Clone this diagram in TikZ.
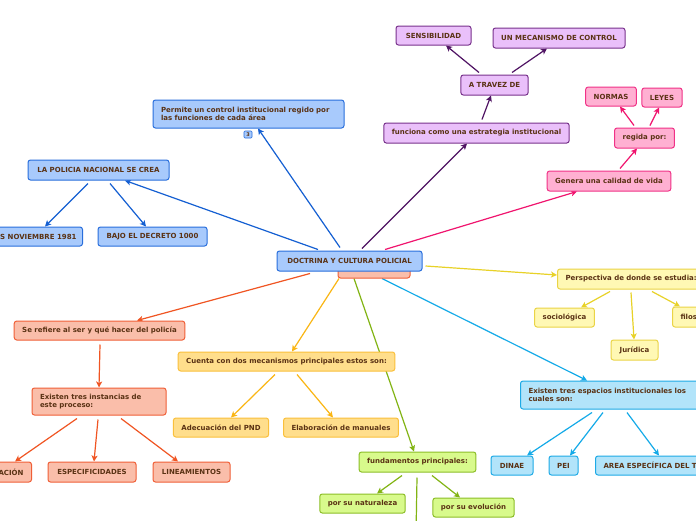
\documentclass[tikz,border=0pt]{standalone}
\usepackage{fontspec}
\setmainfont{DejaVu Sans}
\usetikzlibrary{arrows.meta}
\pgfdeclarelayer{background}
\pgfsetlayers{background,main}
\definecolor{txt}{RGB}{90,50,20}
\definecolor{bluF}{RGB}{168,202,252}\definecolor{bluD}{RGB}{40,110,220}\definecolor{bluL}{RGB}{20,95,210}
\definecolor{purF}{RGB}{234,192,250}\definecolor{purD}{RGB}{120,50,140}\definecolor{purL}{RGB}{80,20,100}
\definecolor{pinF}{RGB}{255,176,210}\definecolor{pinD}{RGB}{240,50,135}\definecolor{pinL}{RGB}{240,20,110}
\definecolor{yelF}{RGB}{255,248,180}\definecolor{yelD}{RGB}{234,212,70}\definecolor{yelL}{RGB}{232,210,40}
\definecolor{salF}{RGB}{250,190,170}\definecolor{salD}{RGB}{240,95,55}\definecolor{salL}{RGB}{240,85,35}
\definecolor{golF}{RGB}{255,222,140}\definecolor{golD}{RGB}{250,192,60}\definecolor{golL}{RGB}{250,182,20}
\definecolor{grnF}{RGB}{216,250,140}\definecolor{grnD}{RGB}{140,190,40}\definecolor{grnL}{RGB}{130,180,20}
\definecolor{cyaF}{RGB}{178,228,250}\definecolor{cyaD}{RGB}{30,170,230}\definecolor{cyaL}{RGB}{20,170,232}
\tikzset{
  box/.style={draw=#1D, fill=#1F, rounded corners=2.5pt, line width=1pt, text=txt,
     font=\fontsize{7}{8.6}\selectfont\bfseries, inner xsep=8pt, inner ysep=2pt},
  sz/.style 2 args={minimum width=#1pt, minimum height=#2pt},
  arr/.style={draw=#1L, line width=1.2pt, -{Stealth[length=6pt,width=6pt,inset=1.5pt]}},
  plain/.style={draw=#1L, line width=1.2pt}
}
\begin{document}
\begin{tikzpicture}[x=1pt,y=-1pt]
\useasboundingbox (0,0) rectangle (696,520);
% blue
\node[box=blu, sz={191}{28}, text width=175pt, align=left] (perm) at (248.5,114) {Permite un control institucional regido por las funciones de cada área};
\node[box=blu, font=\fontsize{5}{5}\selectfont\bfseries, inner sep=1.2pt, rounded corners=1pt, line width=0.6pt, minimum width=8pt, minimum height=7pt] (badge) at (248,134.5) {3};
\node[box=blu, sz={141}{20}] (lapol) at (98.5,170) {LA POLICIA NACIONAL SE CREA};
\node[box=blu, minimum height=19pt, anchor=east, inner xsep=6pt] (snov) at (83,236.5) {S NOVIEMBRE 1981};
\node[box=blu, sz={109}{19}] (bajo) at (152.5,236.5) {BAJO EL DECRETO 1000};
% centre
\node[box=sal, sz={72}{18}] (hid) at (374,269) {};
\node[box=blu, sz={145}{20}] (doc) at (349.5,261) {DOCTRINA Y CULTURA POLICIAL};
% purple
\node[box=pur, sz={75}{19}] (sens) at (433.5,35.5) {SENSIBILIDAD};
\node[box=pur, sz={132}{20}] (mec) at (559,38) {UN MECANISMO DE CONTROL};
\node[box=pur, sz={67}{20}] (atr) at (494.5,85) {A TRAVEZ DE};
\node[box=pur, sz={183}{20}] (fun) at (476.5,133) {funciona como una estrategia institucional};
% pink
\node[box=pin, sz={50}{19}] (norm) at (611,96.5) {NORMAS};
\node[box=pin, sz={40}{19}] (ley) at (662,97.5) {LEYES};
\node[box=pin, sz={59}{20}] (reg) at (644.5,138) {regida por:};
\node[box=pin, sz={122}{20}] (gen) at (609,181) {Genera una calidad de vida};
% yellow
\node[box=yel, minimum height=20pt, minimum width=150pt, anchor=west, text width=134pt, align=left] (persp) at (557,279) {Perspectiva de donde se estudia:};
\node[box=yel, sz={59}{19}] (soc) at (564.5,317.5) {sociológica};
\node[box=yel, minimum height=20pt, anchor=west] (fil) at (672,317) {filos};
\node[box=yel, sz={47}{20}] (jur) at (634.5,350) {Jurídica};
% salmon
\node[box=sal, sz={169}{19}] (ser) at (99.5,330.5) {Se refiere al ser y qué hacer del policía};
\node[box=sal, sz={134}{27}, text width=118pt, align=left] (inst) at (99,401.5) {Existen tres instancias de este proceso:};
\node[box=sal, minimum height=20pt, anchor=east] (acion) at (32,472) {ACIÓN};
\node[box=sal, sz={88}{20}] (esp) at (92,472) {ESPECIFICIDADES};
\node[box=sal, sz={77}{20}] (lin) at (191.5,472) {LINEAMIENTOS};
% gold
\node[box=gol, sz={215}{19}] (cue) at (286.5,361.5) {Cuenta con dos mecanismos principales estos son:};
\node[box=gol, sz={94}{19}] (ade) at (221,427.5) {Adecuación del PND};
\node[box=gol, sz={114}{19}] (ela) at (341,427.5) {Elaboración de manuales};
% cyan
\node[box=cya, minimum height=28pt, anchor=west, text width=172pt, align=left] (esps) at (520,395) {Existen tres espacios institucionales los cuales son:};
\node[box=cya, sz={42}{19}] (dinae) at (512,465.5) {DINAE};
\node[box=cya, sz={29}{19}] (pei) at (563.5,465.5) {PEI};
\node[box=cya, minimum height=19pt, minimum width=120pt, anchor=west, text width=104pt, align=left] (area) at (595,465.5) {AREA ESPECÍFICA DEL T};
% green
\node[box=grn, sz={115}{20}] (fund) at (417.5,462) {fundamentos principales:};
\node[box=grn, sz={85}{19}] (nat) at (362.5,503.5) {por su naturaleza};
\node[box=grn, sz={81}{19}] (evo) at (473.5,507.5) {por su evolución};
\coordinate (below) at (416,535);

\begin{pgfonlayer}{background}
\fill[white] (0,0) rectangle (696,520);
% blue
\draw[arr=blu] ([xshift=-9.5pt,yshift=3pt]doc.north) -- ([xshift=9.5pt]perm.south);
\draw[arr=blu] ([xshift=-31.5pt,yshift=1pt]doc.north) -- ([xshift=26.5pt]lapol.south);
\draw[arr=blu] ([xshift=-10.5pt,yshift=-3pt]lapol.south) -- ([xshift=-38pt]snov.north east);
\draw[arr=blu] ([xshift=11.5pt,yshift=-3pt]lapol.south) -- ([xshift=-6.5pt]bajo.north);
% purple
\draw[arr=pur] ([xshift=12.5pt,yshift=2pt]doc.north) -- ([xshift=-9.5pt]fun.south);
\draw[arr=pur] ([xshift=5.5pt,yshift=3pt]fun.north) -- ([xshift=-3.5pt]atr.south);
\draw[arr=pur] ([xshift=-15.5pt,yshift=2pt]atr.north) -- ([xshift=12.5pt]sens.south);
\draw[arr=pur] ([xshift=17.5pt,yshift=2pt]atr.north) -- ([xshift=-12pt]mec.south);
% pink
\draw[arr=pin] ([xshift=35.5pt,yshift=1pt]doc.north) -- ([xshift=-32pt]gen.south);
\draw[arr=pin] ([xshift=11pt,yshift=2pt]gen.north) -- ([xshift=-7.5pt]reg.south);
\draw[arr=pin] ([xshift=-10.5pt,yshift=2pt]reg.north) -- ([xshift=9pt]norm.south);
\draw[arr=pin] ([xshift=5.5pt,yshift=2pt]reg.north) -- ([xshift=-3pt]ley.south);
% yellow
\draw[arr=yel] ([xshift=3pt,yshift=-5pt]doc.east) -- ([yshift=4pt]persp.west);
\draw[arr=yel] ([xshift=53pt,yshift=-2pt]persp.south west) -- ([xshift=16.5pt]soc.north);
\draw[arr=yel] ([xshift=74pt,yshift=-3pt]persp.south west) -- ([xshift=-0.5pt]jur.north);
\draw[arr=yel] ([xshift=95pt,yshift=-2pt]persp.south west) -- ([xshift=8pt]fil.north west);
% salmon
\draw[arr=sal] ([xshift=-39.5pt,yshift=-2pt]doc.south) -- ([xshift=37.5pt]ser.north);
\draw[arr=sal] ([xshift=0.5pt,yshift=-4pt]ser.south) -- (inst.north);
\draw[arr=sal] ([xshift=-22pt,yshift=-3pt]inst.south) -- ([xshift=-17pt]acion.north east);
\draw[arr=sal] ([xshift=-1pt,yshift=-4pt]inst.south) -- ([xshift=2pt]esp.north);
\draw[arr=sal] ([xshift=22pt,yshift=-3pt]inst.south) -- ([xshift=-13.5pt]lin.north);
% gold
\draw[arr=gol] ([xshift=-35pt]hid.south) -- ([xshift=5.5pt]cue.north);
\draw[arr=gol] ([xshift=-11.5pt,yshift=-3pt]cue.south) -- ([xshift=10pt]ade.north);
\draw[arr=gol] ([xshift=10.5pt,yshift=-3pt]cue.south) -- ([xshift=-8pt]ela.north);
% green
\draw[arr=grn] ([xshift=-20pt]hid.south) -- ([xshift=-3.5pt]fund.north);
\draw[arr=grn] ([xshift=-15.5pt,yshift=-3pt]fund.south) -- ([xshift=14.5pt]nat.north);
\draw[arr=grn] ([xshift=14.5pt,yshift=-3pt]fund.south) -- ([xshift=-13.5pt]evo.north);
\draw[plain=grn] ([xshift=-0.5pt,yshift=-5pt]fund.south) -- (below);
% cyan
\draw[arr=cya] ([xshift=8pt]hid.south) -- ([xshift=67pt]esps.north west);
\draw[arr=cya] ([xshift=72pt,yshift=-3pt]esps.south west) -- ([xshift=15pt]dinae.north);
\draw[arr=cya] ([xshift=83pt,yshift=-3pt]esps.south west) -- ([xshift=6.5pt]pei.north);
\draw[arr=cya] ([xshift=107pt,yshift=-3pt]esps.south west) -- ([xshift=64pt]area.north west);
\end{pgfonlayer}
\end{tikzpicture}
\end{document}
